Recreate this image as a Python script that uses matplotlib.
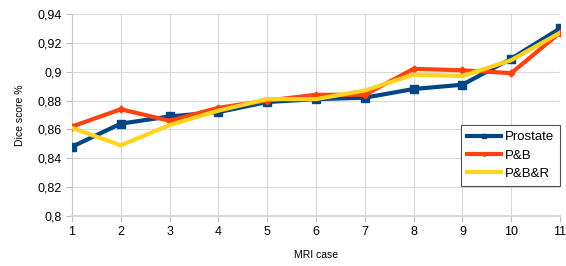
import matplotlib
matplotlib.use("Agg")
import matplotlib.pyplot as plt
from matplotlib.ticker import FuncFormatter

plt.rcParams['font.family'] = ['Liberation Sans', 'DejaVu Sans']

cases = list(range(1, 12))
prostate = [0.848, 0.864, 0.869, 0.872, 0.879, 0.881, 0.882, 0.888, 0.891, 0.909, 0.930]
pb = [0.862, 0.874, 0.866, 0.875, 0.880, 0.884, 0.884, 0.902, 0.901, 0.899, 0.927]
pbr = [0.861, 0.849, 0.863, 0.873, 0.881, 0.881, 0.887, 0.898, 0.897, 0.908, 0.927]

fig = plt.figure(figsize=(5.66, 2.66), dpi=100)
ax = fig.add_axes([72 / 566, 1 - 216 / 266, (560 - 72) / 566, (216 - 14) / 266])

ax.plot(cases, prostate, color='#004586', lw=3, marker='s', ms=6, label='Prostate', zorder=3)
ax.plot(cases, pb, color='#ff420e', lw=3, marker='D', ms=3.5, label='P&B', zorder=4)
ax.plot(cases, pbr, color='#ffd320', lw=3, label='P&B&R', zorder=5)

ax.set_xlim(1, 11)
ax.set_ylim(0.8, 0.94)
ax.set_xticks(cases)
ax.set_yticks([0.8, 0.82, 0.84, 0.86, 0.88, 0.9, 0.92, 0.94])
ax.yaxis.set_major_formatter(FuncFormatter(lambda v, p: ('%g' % round(v, 2)).replace('.', ',')))
ax.grid(True, axis='both', color='#d9d9d9', lw=0.8)
ax.set_axisbelow(True)
for s in ['top', 'right']:
    ax.spines[s].set_visible(False)
ax.spines['left'].set_color('#c8c8c8')
ax.spines['bottom'].set_color('#d9d9d9')
ax.spines['bottom'].set_linewidth(1.5)
ax.tick_params(colors='#c0c0c0', labelcolor='black', labelsize=9, length=4)

ax.set_xlabel('MRI case', fontsize=7.5, labelpad=8)
ax.set_ylabel('Dice score %', fontsize=7.5, labelpad=9)

leg = ax.legend(loc='lower right', bbox_to_anchor=(1.0, 0.15), fontsize=9.5, fancybox=False,
                framealpha=1, edgecolor='#505050', handlelength=2.6, borderpad=0.45,
                labelspacing=0.45, handletextpad=0.3, markerscale=0.6, borderaxespad=0)
leg.get_frame().set_linewidth(0.8)

fig.savefig('out.png', dpi=100)
